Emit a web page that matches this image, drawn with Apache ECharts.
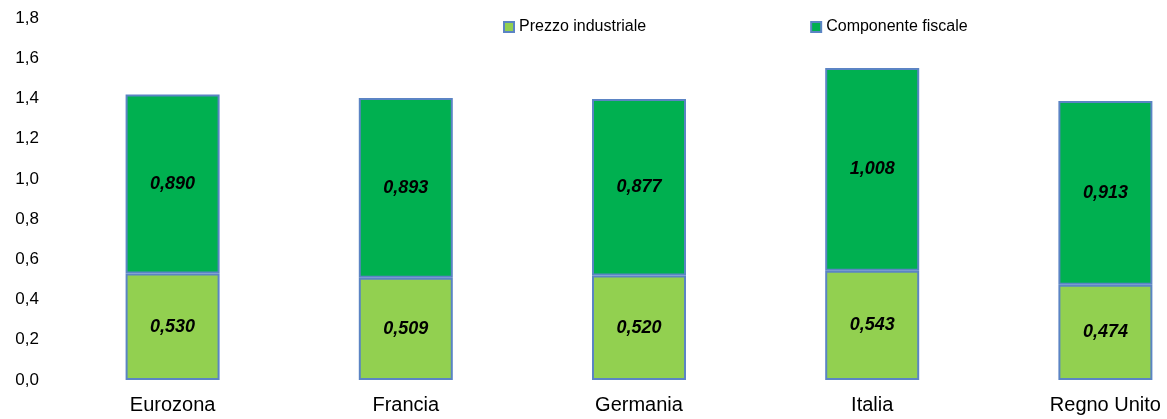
<!DOCTYPE html>
<html>
<head>
<meta charset="utf-8">
<script src="https://cdn.jsdelivr.net/npm/echarts@6/dist/echarts.min.js"></script>
<style>
  html, body { margin: 0; padding: 0; background: #fff; }
  #chart { width: 1167px; height: 419px; }
</style>
</head>
<body>
<div id="chart"></div>
<script>
const categories = ['Eurozona', 'Francia', 'Germania', 'Italia', 'Regno Unito']
const prezzoIndustriale = [0.530, 0.509, 0.520, 0.543, 0.474]
const componenteFiscale = [0.890, 0.893, 0.877, 1.008, 0.913]

const FONT = '"Liberation Sans", Arial, sans-serif'
const BORDER = '#5b84c4'

const comma = (v, d) => v.toFixed(d).replace('.', ',')

const label = {
  show: true,
  position: 'inside',
  color: '#000',
  fontFamily: FONT,
  fontSize: 18,
  fontWeight: 'bold',
  fontStyle: 'italic',
  formatter: (p) => comma(p.value, 3),
}

const chart = echarts.init(document.getElementById('chart'))
chart.setOption({
  animation: false,
  textStyle: { fontFamily: FONT },
  legend: {
    top: 14,
    left: 498,
    itemGap: 164,
    itemWidth: 10,
    itemHeight: 10,
    icon: 'rect',
    textStyle: { fontSize: 16, color: '#000' },
    data: ['Prezzo industriale', 'Componente fiscale'],
  },
  // last category band runs past the right edge in the original
  grid: { left: 56, width: 1166, top: 18, bottom: 39, outerBoundsMode: 'none' },
  xAxis: {
    type: 'category',
    data: categories,
    axisLine: { show: false },
    axisTick: { show: false },
    axisLabel: { color: '#000', fontSize: 20, margin: 15 },
  },
  yAxis: {
    type: 'value',
    min: 0,
    max: 1.8,
    interval: 0.2,
    splitLine: { show: false },
    axisLine: { show: false },
    axisTick: { show: false },
    axisLabel: { color: '#000', fontSize: 17, margin: 17, formatter: (v) => comma(v, 1) },
  },
  series: [
    {
      name: 'Prezzo industriale',
      type: 'bar',
      stack: 'tot',
      barWidth: 94,
      data: prezzoIndustriale,
      itemStyle: { color: '#92d050', borderColor: BORDER, borderWidth: 2 },
      label,
    },
    {
      name: 'Componente fiscale',
      type: 'bar',
      stack: 'tot',
      barWidth: 94,
      data: componenteFiscale,
      itemStyle: { color: '#00b050', borderColor: BORDER, borderWidth: 2 },
      label,
    },
  ],
})
</script>
</body>
</html>
